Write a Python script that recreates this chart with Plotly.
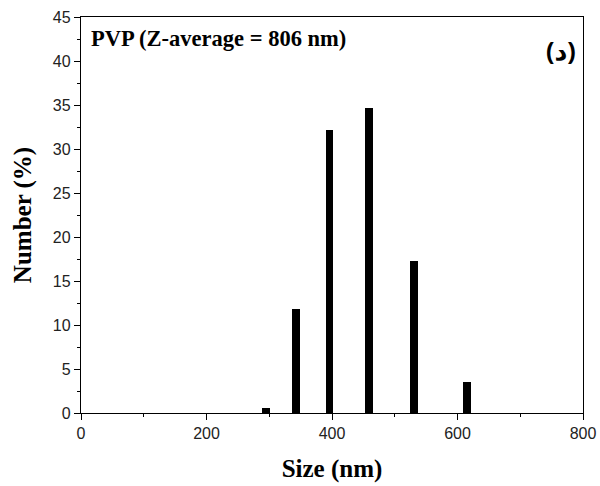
import plotly.graph_objects as go

# Particle size distribution (number %) for PVP sample
sizes_nm = [295.3, 342.0, 396.1, 458.7, 531.2, 615.1]
number_pct = [0.6, 11.8, 32.2, 34.7, 17.3, 3.5]
x_ticks = [0, 200, 400, 600, 800]
y_ticks = [0, 5, 10, 15, 20, 25, 30, 35, 40, 45]

SERIF = "Liberation Serif, Times New Roman, serif"
SANS = "Liberation Sans, Arial, sans-serif"

fig = go.Figure()
fig.add_trace(go.Bar(
    x=sizes_nm,
    y=number_pct,
    width=12.5,
    marker=dict(color="black", line=dict(width=0)),
))

axis_common = dict(
    showline=True,
    linecolor="black",
    linewidth=1.3,
    mirror=True,
    showgrid=False,
    zeroline=False,
    automargin=False,
    ticks="outside",
    ticklen=6,
    tickwidth=1.3,
    tickcolor="black",
    tickfont=dict(family=SANS, size=16, color="#222"),
)

fig.update_layout(
    width=600,
    height=486,
    margin=dict(l=81, r=17, t=17, b=73),
    plot_bgcolor="white",
    paper_bgcolor="white",
    showlegend=False,
    bargap=0,
    xaxis=dict(
        axis_common,
        range=[0, 800],
        tickvals=x_ticks,
        minor=dict(tickvals=[100, 300, 500, 700], ticks="outside", ticklen=3,
                   tickwidth=1.3, tickcolor="black"),
        title=dict(text="<b>Size (nm)</b>", standoff=18,
                   font=dict(family=SERIF, size=25, color="black")),
    ),
    yaxis=dict(
        axis_common,
        range=[0, 45],
        tickvals=y_ticks,
        minor=dict(tickvals=[2.5 + 5 * i for i in range(9)], ticks="outside", ticklen=3,
                   tickwidth=1.3, tickcolor="black"),
        title=dict(text="<b>Number (%)</b>", standoff=14,
                   font=dict(family=SERIF, size=25, color="black")),
    ),
    annotations=[
        dict(text="<b>PVP (Z-average = 806 nm)</b>", xref="paper", yref="paper",
             x=0.015, y=0.946, xanchor="left", yanchor="middle", showarrow=False,
             font=dict(family=SERIF, size=22.5, color="black")),
        dict(text="<b>(د)</b>", xref="paper", yref="paper",
             x=0.99, y=0.916, xanchor="right", yanchor="middle", showarrow=False,
             font=dict(family="Noto Sans, DejaVu Sans, sans-serif", size=25, color="black")),
    ],
)

fig.write_html("out.html")
